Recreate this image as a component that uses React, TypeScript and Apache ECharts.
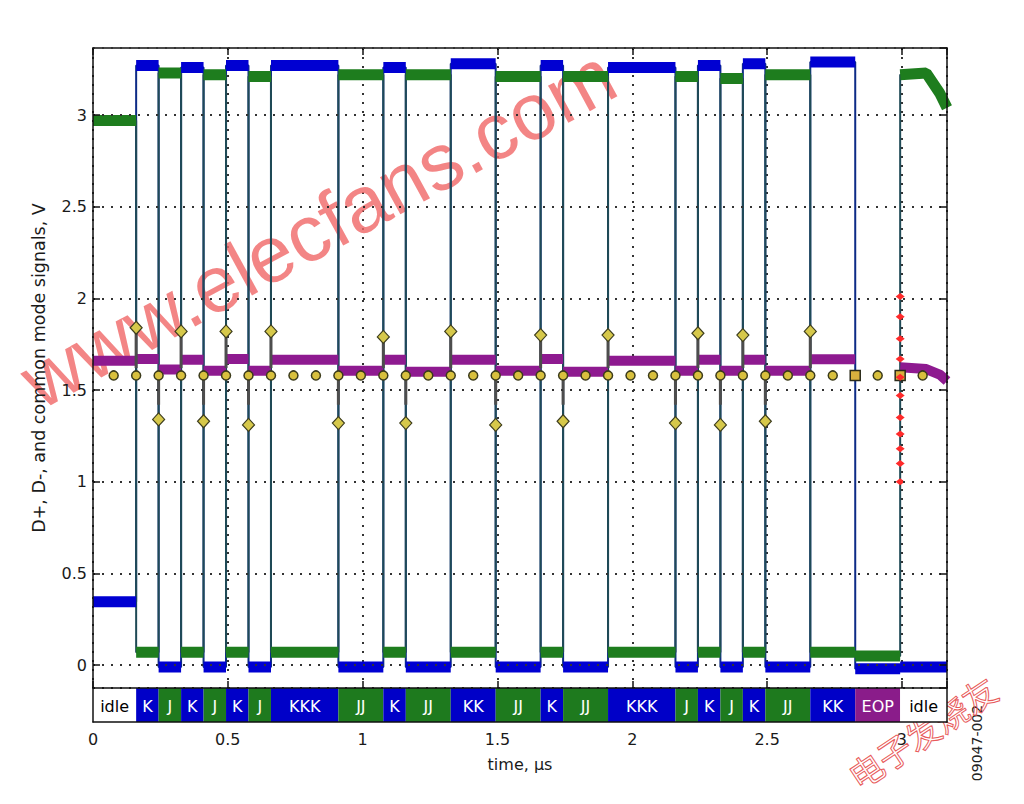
import React, { useEffect, useRef } from "react";
import * as echarts from "echarts";

// ---- timing (full-speed USB) ----
const BIT_US = 1 / 12; // bit time, µs
const SOP_US = 0.16; // first K edge, µs
const X_MAX = 3.167;
const Y_MIN = -0.125;
const Y_MAX = 3.366;

// ---- line-state band ----
const bandLabels = ["idle", "K", "J", "K", "J", "K", "J", "KKK", "JJ", "K", "JJ", "KK", "JJ", "K", "JJ", "KKK", "J", "K", "J", "K", "JJ", "KK", "EOP", "idle"];

// driven-high level of each packet segment (D- in K, D+ in J), V
const segHigh = [3.27, 3.23, 3.26, 3.22, 3.27, 3.21, 3.27, 3.22, 3.26, 3.22, 3.28, 3.21, 3.27, 3.21, 3.26, 3.21, 3.27, 3.2, 3.28, 3.22, 3.29];
// common-mode level of each packet segment, V
const segCommon = [1.67, 1.612, 1.665, 1.605, 1.67, 1.605, 1.665, 1.605, 1.665, 1.6, 1.665, 1.605, 1.67, 1.6, 1.66, 1.605, 1.665, 1.605, 1.665, 1.605, 1.668];
// crossing markers at each K/J edge, V
const crossMarks = [1.84, 1.34, 1.82, 1.33, 1.82, 1.31, 1.82, 1.32, 1.79, 1.32, 1.82, 1.31, 1.8, 1.33, 1.8, 1.32, 1.81, 1.31, 1.8, 1.33, 1.82];
// markers at end of EOP, V
const eopMarks = [2.01, 1.9, 1.78, 1.67, 1.57, 1.47, 1.35, 1.26, 1.18, 1.1, 1.0];

const idleDPlus = 2.97;
const idleDMinus = 0.345;
const idleCommon = 1.66;
const lowDPlusK = 0.07;
const lowDMinusJ = -0.01;
const se0DPlus = 0.05;
const se0DMinus = -0.02;
const tailTimes = [3.09, 3.14, X_MAX];
const tailDPlus = [3.22, 3.23, 3.12, 3.04];
const tailDMinus = [-0.01, -0.01, -0.01, -0.01];
const tailCommon = [1.625, 1.615, 1.585, 1.55];
const sampleLevel = 1.58;
const firstSample = -1;
const lastSample = 35;
const crossBarUpperEnd = 1.62;
const crossBarLower = [1.56, 1.42];

type Seg = { label: string; start: number; end: number; kind: string; p: number; bit: number };
const segs: Seg[] = [];
let totalBits = 0;
bandLabels.forEach((label, idx) => {
  if (idx === 0) {
    segs.push({ label, start: 0, end: SOP_US, kind: "idle", p: -1, bit: -1 });
    return;
  }
  const start = SOP_US + totalBits * BIT_US;
  if (idx === bandLabels.length - 1) {
    segs.push({ label, start, end: X_MAX, kind: "idle", p: -1, bit: totalBits });
    return;
  }
  const n = label === "EOP" ? 2 : label.length;
  segs.push({ label, start, end: start + n * BIT_US, kind: label === "EOP" ? "EOP" : label[0], p: idx - 1, bit: totalBits });
  totalBits += n;
});
const packetSegs = segs.slice(1, -1);
const eopSeg = segs[segs.length - 2];
const eopEnd = eopSeg.end;

type Which = "dp" | "dm" | "cm";
function levelOf(s: Seg, w: Which): number | null {
  if (s.kind === "K") return w === "dp" ? lowDPlusK : w === "dm" ? segHigh[s.p] : segCommon[s.p];
  if (s.kind === "J") return w === "dp" ? segHigh[s.p] : w === "dm" ? lowDMinusJ : segCommon[s.p];
  if (s.kind === "EOP") return w === "dp" ? se0DPlus : w === "dm" ? se0DMinus : null;
  return null;
}
function pieces(w: Which, idle: number, tail: number[]) {
  const out: any[][] = [];
  out.push([[0, idle], [SOP_US, idle]]);
  packetSegs.forEach((s) => {
    const v = levelOf(s, w);
    if (v != null) out.push([[s.start, v], [s.end, v]]);
  });
  out.push([[eopEnd, tail[0]], ...tailTimes.map((t, i) => [t, tail[i + 1]])]);
  return out;
}
const joined = (ps: any[][]) => ps.flat();
const broken = (ps: any[][]) => ps.flatMap((p) => [...p, [p[p.length - 1][0], "-"]]);

const dpPieces = pieces("dp", idleDPlus, tailDPlus);
const dmPieces = pieces("dm", idleDMinus, tailDMinus);
const cmPieces = pieces("cm", idleCommon, tailCommon);

const kjSegs = packetSegs.filter((s) => s.kind !== "EOP");
const crossBars = kjSegs.flatMap((s) => {
  const v = crossMarks[s.p];
  const seg = v > sampleLevel ? [[s.start, v], [s.start, crossBarUpperEnd]] : [[s.start, crossBarLower[0]], [s.start, crossBarLower[1]]];
  return [...seg, [s.start, "-"]];
});
const diamonds = kjSegs.map((s) => [s.start, crossMarks[s.p]]);
const eopStartBit = eopSeg.bit;
const eopEndBit = eopSeg.bit + 2;
const samples: number[][] = [];
const squares: number[][] = [];
for (let k = firstSample; k <= lastSample; k++) {
  const pt = [SOP_US + k * BIT_US, sampleLevel];
  if (k === eopStartBit || k === eopEndBit) squares.push(pt);
  else samples.push(pt);
}
const redMarks = eopMarks.map((v) => [eopEnd, v]);

const bandFill: Record<string, string> = { K: "#0000c8", J: "#1e7a1e", EOP: "#8a1c8a", idle: "#ffffff" };
const bandText: Record<string, string> = { K: "#ffffff", J: "#ffffff", EOP: "#ffffff", idle: "#000000" };

const FONT = "DejaVu Sans";
const dotted = { type: [2, 7], color: "#333", width: 2 };
const blackLine = { color: "#111", width: 1.5 };
const frameLine = { show: true, onZero: false, lineStyle: blackLine };

const option: any = {
  animation: false,
  backgroundColor: "#ffffff",
  grid: [
    { left: 93, top: 48, width: 854, height: 640 },
    { left: 93, top: 688, width: 854, height: 34 },
  ],
  xAxis: [
    {
      type: "value", gridIndex: 0, position: "bottom", min: 0, max: X_MAX, minInterval: 0.5, maxInterval: 0.5, splitNumber: 6, z: 10,
      axisLine: frameLine, axisTick: { show: true, inside: true, length: 7, lineStyle: blackLine },
      axisLabel: { show: false }, splitLine: { show: false },
    },
    {
      type: "value", gridIndex: 0, position: "top", min: 0, max: X_MAX, minInterval: 0.5, maxInterval: 0.5, splitNumber: 6,
      axisLine: frameLine, axisTick: { show: true, inside: true, length: 7, lineStyle: blackLine },
      axisLabel: { show: false }, splitLine: { show: true, lineStyle: dotted },
    },
    {
      type: "value", gridIndex: 1, position: "bottom", min: 0, max: X_MAX, minInterval: 0.5, maxInterval: 0.5, splitNumber: 6, z: 10,
      axisLine: frameLine, axisTick: { show: false },
      axisLabel: { show: true, showMinLabel: true, showMaxLabel: false, margin: 9, fontFamily: FONT, fontSize: 16, color: "#1a1a1a" },
      splitLine: { show: false },
      name: "time, µs", nameLocation: "middle", nameGap: 34,
      nameTextStyle: { fontFamily: FONT, fontSize: 16, color: "#1a1a1a" },
    },
  ],
  yAxis: [
    {
      type: "value", gridIndex: 0, position: "left", min: Y_MIN, max: Y_MAX, minInterval: 0.5, maxInterval: 0.5, splitNumber: 7, z: 10,
      axisLine: frameLine, axisTick: { show: true, inside: true, length: 7, lineStyle: blackLine },
      axisLabel: { show: true, showMinLabel: false, showMaxLabel: false, margin: 6, fontFamily: FONT, fontSize: 16, color: "#1a1a1a" },
      splitLine: { show: false },
      name: "D+, D-, and common mode signals, V", nameLocation: "middle", nameGap: 45,
      nameTextStyle: { fontFamily: FONT, fontSize: 17.5, color: "#1a1a1a" },
    },
    {
      type: "value", gridIndex: 0, position: "right", min: Y_MIN, max: Y_MAX, minInterval: 0.5, maxInterval: 0.5, splitNumber: 7, z: 10,
      axisLine: frameLine, axisTick: { show: true, inside: true, length: 7, lineStyle: blackLine },
      axisLabel: { show: false }, splitLine: { show: true, lineStyle: dotted },
    },
    {
      type: "value", gridIndex: 1, position: "left", min: 0, max: 1, z: 10,
      axisLine: frameLine, axisTick: { show: false }, axisLabel: { show: false }, splitLine: { show: false },
    },
    {
      type: "value", gridIndex: 1, position: "right", min: 0, max: 1, z: 10,
      axisLine: frameLine, axisTick: { show: false }, axisLabel: { show: false }, splitLine: { show: false },
    },
  ],
  graphic: [
    {
      type: "text", x: 318, y: 228, rotation: 0.5, z: 1, silent: true,
      style: { text: "www.elecfans.com", font: '80px "Liberation Sans"', fill: "#f06a6a", opacity: 0.82, align: "center", verticalAlign: "middle" },
    },
    {
      type: "text", x: 922, y: 732, rotation: 0.59, z: 1, silent: true,
      style: { text: "电子发烧友", font: '34px "Noto Sans CJK SC"', fill: "rgba(255,255,255,0)", stroke: "#e85a5a", lineWidth: 1, align: "center", verticalAlign: "middle" },
    },
    {
      type: "text", x: 977, y: 743, rotation: Math.PI / 2, silent: true,
      style: { text: "09047-002", font: '14px "DejaVu Sans"', fill: "#222", align: "center", verticalAlign: "middle" },
    },
  ],
  series: [
    { name: "D- edges", type: "line", xAxisIndex: 0, yAxisIndex: 0, data: joined(dmPieces), showSymbol: false, symbol: "none", lineStyle: { color: "#0d2b86", width: 2 }, z: 2, silent: true },
    { name: "D+ edges", type: "line", xAxisIndex: 0, yAxisIndex: 0, data: joined(dpPieces), showSymbol: false, symbol: "none", lineStyle: { color: "#1f4a56", width: 2 }, z: 2, silent: true },
    { name: "D-", type: "line", xAxisIndex: 0, yAxisIndex: 0, data: broken(dmPieces), connectNulls: false, showSymbol: false, symbol: "none", lineStyle: { color: "#0000d2", width: 11 }, z: 3, silent: true },
    { name: "D+", type: "line", xAxisIndex: 0, yAxisIndex: 0, data: broken(dpPieces), connectNulls: false, showSymbol: false, symbol: "none", lineStyle: { color: "#1e7d1e", width: 11 }, z: 3, silent: true },
    { name: "common mode", type: "line", xAxisIndex: 0, yAxisIndex: 0, data: broken(cmPieces), connectNulls: false, showSymbol: false, symbol: "none", lineStyle: { color: "#8e1a90", width: 10 }, z: 4, silent: true },
    { name: "cross bars", type: "line", xAxisIndex: 0, yAxisIndex: 0, data: crossBars, connectNulls: false, showSymbol: false, symbol: "none", lineStyle: { color: "#4d4d4d", width: 3 }, z: 5, silent: true },
    { name: "samples", type: "scatter", xAxisIndex: 0, yAxisIndex: 0, data: samples, symbol: "circle", symbolSize: 9, itemStyle: { color: "#d8c03e", borderColor: "#3b3b1b", borderWidth: 1.5, opacity: 1 }, z: 6, silent: true },
    { name: "eop samples", type: "scatter", xAxisIndex: 0, yAxisIndex: 0, data: squares, symbol: "rect", symbolSize: 10, itemStyle: { color: "#d8b03e", borderColor: "#2a2a1a", borderWidth: 1.5, opacity: 1 }, z: 6, silent: true },
    { name: "crossings", type: "scatter", xAxisIndex: 0, yAxisIndex: 0, data: diamonds, symbol: "diamond", symbolSize: [12, 13], itemStyle: { color: "#d6c84a", borderColor: "#3d3d1d", borderWidth: 1.2, opacity: 1 }, z: 7, silent: true },
    { name: "eop marks", type: "scatter", xAxisIndex: 0, yAxisIndex: 0, data: redMarks, symbol: "diamond", symbolSize: [9, 7], itemStyle: { color: "#ff2a2a", opacity: 1 }, z: 8, silent: true },
    {
      name: "line state", type: "custom", xAxisIndex: 2, yAxisIndex: 2, silent: true, z: 2,
      data: segs.map((s) => [s.start, s.end, 0.5]),
      encode: { x: [0, 1], y: 2 },
      renderItem: (params: any, api: any) => {
        const s = segs[params.dataIndex];
        const p0 = api.coord([api.value(0), 1]);
        const p1 = api.coord([api.value(1), 0]);
        return {
          type: "group",
          children: [
            { type: "rect", shape: { x: p0[0], y: p0[1], width: p1[0] - p0[0], height: p1[1] - p0[1] }, style: { fill: bandFill[s.kind] } },
            {
              type: "text",
              style: { text: s.label, x: (p0[0] + p1[0]) / 2, y: (p0[1] + p1[1]) / 2 + 1, align: "center", verticalAlign: "middle", fill: bandText[s.kind], font: `16px "${FONT}"` },
            },
          ],
        };
      },
    },
  ],
};

export default function App() {
  const ref = useRef<HTMLDivElement>(null);
  useEffect(() => {
    const chart = echarts.init(ref.current!, null, { renderer: "svg" });
    chart.setOption(option);
    return () => chart.dispose();
  }, []);
  return <div ref={ref} style={{ position: "fixed", left: 0, top: 0, width: 1024, height: 804, background: "#fff" }} />;
}
